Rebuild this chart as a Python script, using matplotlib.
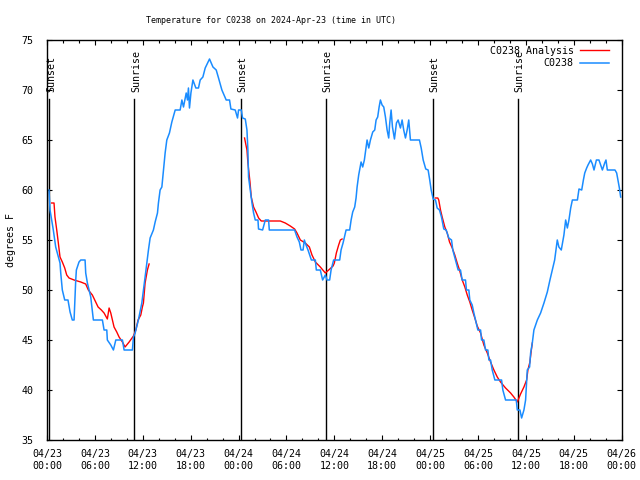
import matplotlib
matplotlib.use("Agg")
import matplotlib.pyplot as plt
from matplotlib.ticker import MultipleLocator, FixedLocator

# hours since 2024-04-23 00:00 UTC
obs_hours = [0.25, 0.38, 0.79, 1.09, 1.29, 1.63, 1.72, 1.92, 2.22, 2.63, 2.89, 3.17, 3.39, 3.60, 3.68,
             4.01, 4.23, 4.77, 4.85, 5.06, 5.48, 5.81, 6.94, 7.15, 7.49, 7.56, 7.99, 8.32, 8.62, 9.45,
             9.66, 10.70, 10.83, 11.04, 11.45, 11.88, 12.08, 12.29, 12.51, 12.71, 12.92, 13.33, 13.55,
             13.84, 13.96, 14.17, 14.39, 14.59, 14.80, 15.01, 15.34, 15.64, 16.06, 16.68, 16.90, 17.10,
             17.44, 17.60, 17.72, 17.85, 18.03, 18.28, 18.65, 18.98, 19.19, 19.53, 19.82, 20.36, 20.79,
             21.20, 21.49, 21.91, 22.33, 22.45, 22.87, 23.04, 23.58, 23.87, 24.00, 24.34, 24.50, 24.84,
             25.05, 25.17, 25.25, 25.46, 25.68, 25.88, 26.09, 26.43, 26.50, 27.01, 27.35, 27.76, 27.85,
             31.02, 31.32, 31.61, 31.82, 32.08, 32.24, 32.45, 32.70, 33.12, 33.62, 33.74, 34.24, 34.53,
             34.87, 35.09, 35.41, 35.59, 35.91, 36.67, 36.84, 37.09, 37.26, 37.47, 37.92, 38.10, 38.30,
             38.55, 38.72, 38.85, 39.05, 39.35, 39.55, 39.76, 39.98, 40.10, 40.31, 40.52, 40.81, 41.06,
             41.23, 41.43, 41.61, 41.77, 41.98, 42.19, 42.40, 42.61, 42.81, 42.94, 43.11, 43.28, 43.53,
             43.78, 43.99, 44.28, 44.49, 44.69, 44.91, 45.12, 45.32, 45.53, 46.66, 46.88, 47.13, 47.45,
             47.75, 47.95, 48.13, 48.38, 48.67, 48.88, 49.17, 49.42, 49.71, 50.01, 50.34, 50.68, 50.84,
             51.18, 51.51, 51.80, 52.01, 52.43, 52.55, 52.85, 52.97, 53.27, 53.48, 53.69, 53.98, 54.32,
             54.44, 54.73, 54.94, 55.23, 55.36, 55.57, 55.78, 56.11, 56.95, 57.11, 57.45, 58.79, 58.92,
             59.25, 59.46, 59.75, 59.96, 60.17, 60.46, 60.59, 60.80, 61.00, 61.43, 61.84, 62.26, 62.68,
             63.01, 63.31, 63.60, 63.93, 64.13, 64.43, 64.76, 64.98, 65.19, 65.39, 65.61, 65.82, 66.45,
             66.65, 66.99, 67.20, 67.37, 67.61, 67.78, 68.11, 68.33, 68.53, 68.83, 69.15, 69.58, 69.87,
             70.03, 70.20, 71.16, 71.37, 71.53, 71.71, 71.87]
obs_temp = [60, 58, 56, 54.3, 53.7, 52.7, 51.7, 50, 49, 49, 47.8, 47, 47, 51, 52,
            52.8, 53, 53, 51.7, 50.7, 49.3, 47, 47, 46, 46, 45, 44.5, 44, 45, 45,
            44, 44, 45.3, 45.7, 47, 48.7, 50, 51.3, 52.7, 54, 55.2, 56, 56.8,
            57.7, 58.7, 60, 60.3, 62, 63.7, 65, 65.7, 66.8, 68, 68, 69, 68.3,
            69.7, 69, 70.2, 68.2, 69.7, 71, 70.2, 70.2, 71, 71.3, 72.2, 73.1, 72.3,
            72, 71.2, 70, 69.2, 69, 69, 68.1, 68, 67.2, 68, 68, 67.2, 67.1,
            66, 64, 61.3, 60, 58.7, 57.7, 57, 57, 56.1, 56, 57, 57, 56,
            56, 55.3, 54.8, 54, 54, 55, 54.5, 54, 53, 53, 52, 52, 51,
            51.5, 51, 51, 52, 53, 53, 54, 54.7, 55.3, 56, 56, 57, 57.8,
            58.3, 59.2, 60.3, 61.5, 62.8, 62.3, 63, 64.3, 65, 64.2, 65, 65.8, 66,
            67, 67.3, 68.3, 69, 68.5, 68.3, 67.3, 66, 65.2, 66.7, 68, 66.3, 65.1,
            66.7, 67, 66.2, 67, 66, 65.2, 66, 67, 65, 65, 64.2, 63, 62.1,
            62, 61, 60, 59.1, 59, 58.2, 58, 57.3, 56.1, 56, 55.2, 55, 54,
            53, 52, 52, 51, 51, 50, 50, 49, 48.5, 47.7, 47, 46, 46,
            45, 45, 44, 44, 43, 43, 42, 41, 41, 40, 39, 39, 38,
            38, 37.2, 38, 39, 42, 42.3, 43.7, 44.7, 46, 47, 47.7, 48.7, 49.8,
            51, 52, 53, 55, 54.3, 54, 55.5, 57, 56.2, 57, 58.2, 59, 59,
            60.1, 60, 61, 61.7, 62.2, 62.5, 63, 62.6, 62, 63, 63, 62, 62.7,
            63, 62, 62, 61.7, 61, 60.2, 59.3]

ana1_hours = [0.59, 0.88, 1.00, 1.22, 1.42, 1.63, 1.92, 2.22, 2.47, 2.76, 3.39, 4.23, 4.85, 5.18,
              5.68, 5.98, 6.40, 6.81, 7.15, 7.56, 7.78, 7.99, 8.40, 8.74, 9.03, 9.45, 9.78, 10.29,
              10.83, 11.13, 11.41, 11.75, 11.95, 12.08, 12.29, 12.58, 12.79]
ana1_temp = [58.7, 58.7, 57.3, 56, 54.7, 53.3, 52.8, 52.2, 51.5, 51.2, 51, 50.8, 50.6, 50,
             49.5, 49, 48.3, 48, 47.7, 47.1, 48.2, 47.7, 46.3, 45.8, 45.3, 44.8, 44.3, 44.8,
             45.4, 46, 47, 47.5, 48.3, 48.7, 50.7, 52, 52.6]
ana2_hours = [24.75, 25.05, 25.17, 25.43, 25.59, 25.88, 26.18, 26.51, 26.84, 29.23, 29.85, 30.48,
              31.02, 31.32, 31.74, 32.36, 32.87, 33.20, 33.62, 34.24, 34.87, 35.29, 35.84, 36.00,
              36.25, 36.54, 36.75, 36.97]
ana2_temp = [65.2, 64, 62.7, 60.8, 59.3, 58.3, 57.8, 57.2, 56.9, 56.9, 56.7, 56.4,
             56.1, 55.7, 55, 54.7, 54.3, 53.5, 52.8, 52.3, 51.7, 52, 52.4, 52.7,
             53.7, 54.5, 55, 55.1]
ana3_hours = [48.67, 48.96, 49.08, 49.30, 49.51, 49.84, 50.14, 50.43, 50.77, 51.09, 51.39, 51.68,
              52.02, 52.35, 52.65, 52.97, 53.27, 53.60, 53.90, 54.32, 54.73, 55.16, 55.57, 55.99,
              56.41, 56.82, 57.45, 58.08, 58.49, 58.92, 59.33, 59.75, 60.09, 60.25, 60.50, 60.68,
              60.80]
ana3_temp = [59.2, 59.2, 59, 58, 57.3, 56.3, 55.7, 54.8, 54.2, 53.5, 52.7, 52,
             51, 50.3, 49.5, 48.8, 48, 47.2, 46.4, 45.7, 44.5, 43.7, 42.8, 42,
             41.3, 40.8, 40.2, 39.7, 39.3, 38.8, 39.6, 40.3, 41, 42, 42.8, 44,
             44.7]

sun_hours = [0.29, 10.96, 24.30, 34.90, 48.35, 59.00]
sun_labels = ["Sunset", "Sunrise", "Sunset", "Sunrise", "Sunset", "Sunrise"]

xtick_hours = list(range(0, 73, 6))
xtick_labels = ["04/23\n00:00", "04/23\n06:00", "04/23\n12:00", "04/23\n18:00",
                "04/24\n00:00", "04/24\n06:00", "04/24\n12:00", "04/24\n18:00",
                "04/25\n00:00", "04/25\n06:00", "04/25\n12:00", "04/25\n18:00",
                "04/26\n00:00"]

FONT = "DejaVu Sans Mono"
FS = 7.2
RED = "#ff0000"
BLUE = "#1a8cff"

fig = plt.figure(figsize=(6.4, 4.8), dpi=100)
ax = fig.add_axes([47 / 640, 40 / 480, 574.7 / 640, 400 / 480])

for h in sun_hours:
    ax.plot([h, h], [35, 69.1], color="black", lw=1.0, zorder=1)
for h, lab in zip(sun_hours, sun_labels):
    ax.text(h + 0.2, 69.8, lab, rotation=90, ha="center", va="bottom",
            fontsize=FS, family=FONT, zorder=3)

ax.plot(ana1_hours, ana1_temp, color=RED, lw=1.0, label="C0238 Analysis", zorder=2)
ax.plot(ana2_hours, ana2_temp, color=RED, lw=1.0, zorder=2)
ax.plot(ana3_hours, ana3_temp, color=RED, lw=1.0, zorder=2)
ax.plot(obs_hours, obs_temp, color=BLUE, lw=1.1, label="C0238", zorder=2.5)

ax.set_xlim(0, 72)
ax.set_ylim(35, 75)
ax.xaxis.set_major_locator(FixedLocator(xtick_hours))
ax.set_xticklabels(xtick_labels)
ax.xaxis.set_minor_locator(MultipleLocator(2))
ax.yaxis.set_major_locator(MultipleLocator(5))
ax.tick_params(which="both", direction="in", top=True, right=True, width=0.8, color="black")
ax.tick_params(which="major", length=3.4)
ax.tick_params(which="minor", length=1.8)
ax.tick_params(axis="x", which="major", pad=6.5)
ax.tick_params(axis="y", which="major", pad=10)
for lbl in ax.get_xticklabels() + ax.get_yticklabels():
    lbl.set_fontfamily(FONT)
    lbl.set_fontsize(FS)
for sp in ax.spines.values():
    sp.set_linewidth(1.0)
    sp.set_color("black")

leg = ax.legend(loc="upper right", bbox_to_anchor=(0.978, 0.985), borderaxespad=0, borderpad=0,
                frameon=False, markerfirst=False, handlelength=2.9, handletextpad=0.65,
                labelspacing=0.25, prop={"family": FONT, "size": FS})

fig.text(271 / 640, 1 - 20.5 / 480, "Temperature for C0238 on 2024-Apr-23 (time in UTC)",
         ha="center", va="center", fontsize=6.0, family=FONT)
fig.text(11 / 640, 0.5, "degrees F", rotation=90, ha="center", va="center",
         fontsize=FS, family=FONT)

fig.savefig("out.png", dpi=100)
